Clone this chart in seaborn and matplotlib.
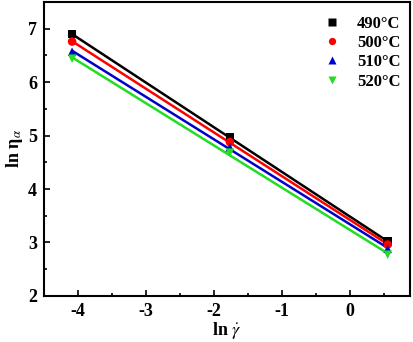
import numpy as np
import pandas as pd
import matplotlib
matplotlib.use("Agg")
import matplotlib.pyplot as plt
import seaborn as sns
from matplotlib.ticker import MultipleLocator

# Data
ln_strain_rate = [-4.09, -1.77, 0.55]
temps = ["490°C", "500°C", "510°C", "520°C"]
ln_eta_490 = [6.90, 4.96, 3.02]
ln_eta_500 = [6.76, 4.88, 2.96]
ln_eta_510 = [6.57, 4.78, 2.88]
ln_eta_520 = [6.44, 4.68, 2.77]
series = [ln_eta_490, ln_eta_500, ln_eta_510, ln_eta_520]

colors = ["#000000", "#ff0000", "#0000cc", "#22dd22"]
markers = ["s", "o", "^", "v"]

df = pd.DataFrame({
    "x": np.tile(ln_strain_rate, len(temps)),
    "y": np.concatenate(series),
    "T": np.repeat(temps, len(ln_strain_rate)),
})

sns.set_style("ticks")
plt.rcParams["font.family"] = ["Liberation Serif", "DejaVu Serif"]
plt.rcParams["mathtext.fontset"] = "stix"
plt.rcParams["axes.unicode_minus"] = False
plt.rcParams["text.color"] = "black"
plt.rcParams["axes.labelcolor"] = "black"
plt.rcParams["xtick.color"] = "black"
plt.rcParams["ytick.color"] = "black"
plt.rcParams["axes.edgecolor"] = "black"

fig = plt.figure(figsize=(4.13, 3.42), dpi=100)
ax = fig.add_axes([0.107, 0.135, 0.886, 0.859])

for t, c in zip(temps, colors):
    sub = df[df["T"] == t]
    sns.regplot(data=sub, x="x", y="y", ax=ax, scatter=False, ci=None,
                color=c, line_kws={"lw": 1.8})

sns.scatterplot(data=df, x="x", y="y", hue="T", style="T",
                palette=dict(zip(temps, colors)),
                markers=dict(zip(temps, markers)),
                s=38, edgecolor="none", ax=ax, zorder=5)

ax.set_xlim(-4.5, 0.88)
ax.set_ylim(2, 7.5)
ax.xaxis.set_major_locator(MultipleLocator(1))
ax.xaxis.set_minor_locator(MultipleLocator(0.5))
ax.yaxis.set_major_locator(MultipleLocator(1))
ax.yaxis.set_minor_locator(MultipleLocator(0.5))
ax.tick_params(which="both", direction="in", top=False, right=False, colors="black")
ax.tick_params(which="major", length=4, width=1.2, pad=5)
ax.tick_params(which="minor", length=2.5, width=1.2)
for lab in ax.get_xticklabels() + ax.get_yticklabels():
    lab.set_fontweight("bold")
    lab.set_fontsize(13)
for s in ax.spines.values():
    s.set_linewidth(1.5)
    s.set_visible(True)
    s.set_color("black")

ax.set_xlabel(r"ln $\dot{\gamma}$", fontsize=13, fontweight="bold", labelpad=0)
ax.set_ylabel(r"ln $\mathregular{\eta}_{\alpha}$", fontsize=13, fontweight="bold", labelpad=2)

leg = ax.legend(title=None, loc="upper right", frameon=False,
                bbox_to_anchor=(1.015, 1.005), fontsize=12,
                handletextpad=0.5, labelspacing=0.2, markerscale=0.85)
for txt in leg.get_texts():
    txt.set_fontweight("bold")

fig.savefig("out.png", dpi=100)
